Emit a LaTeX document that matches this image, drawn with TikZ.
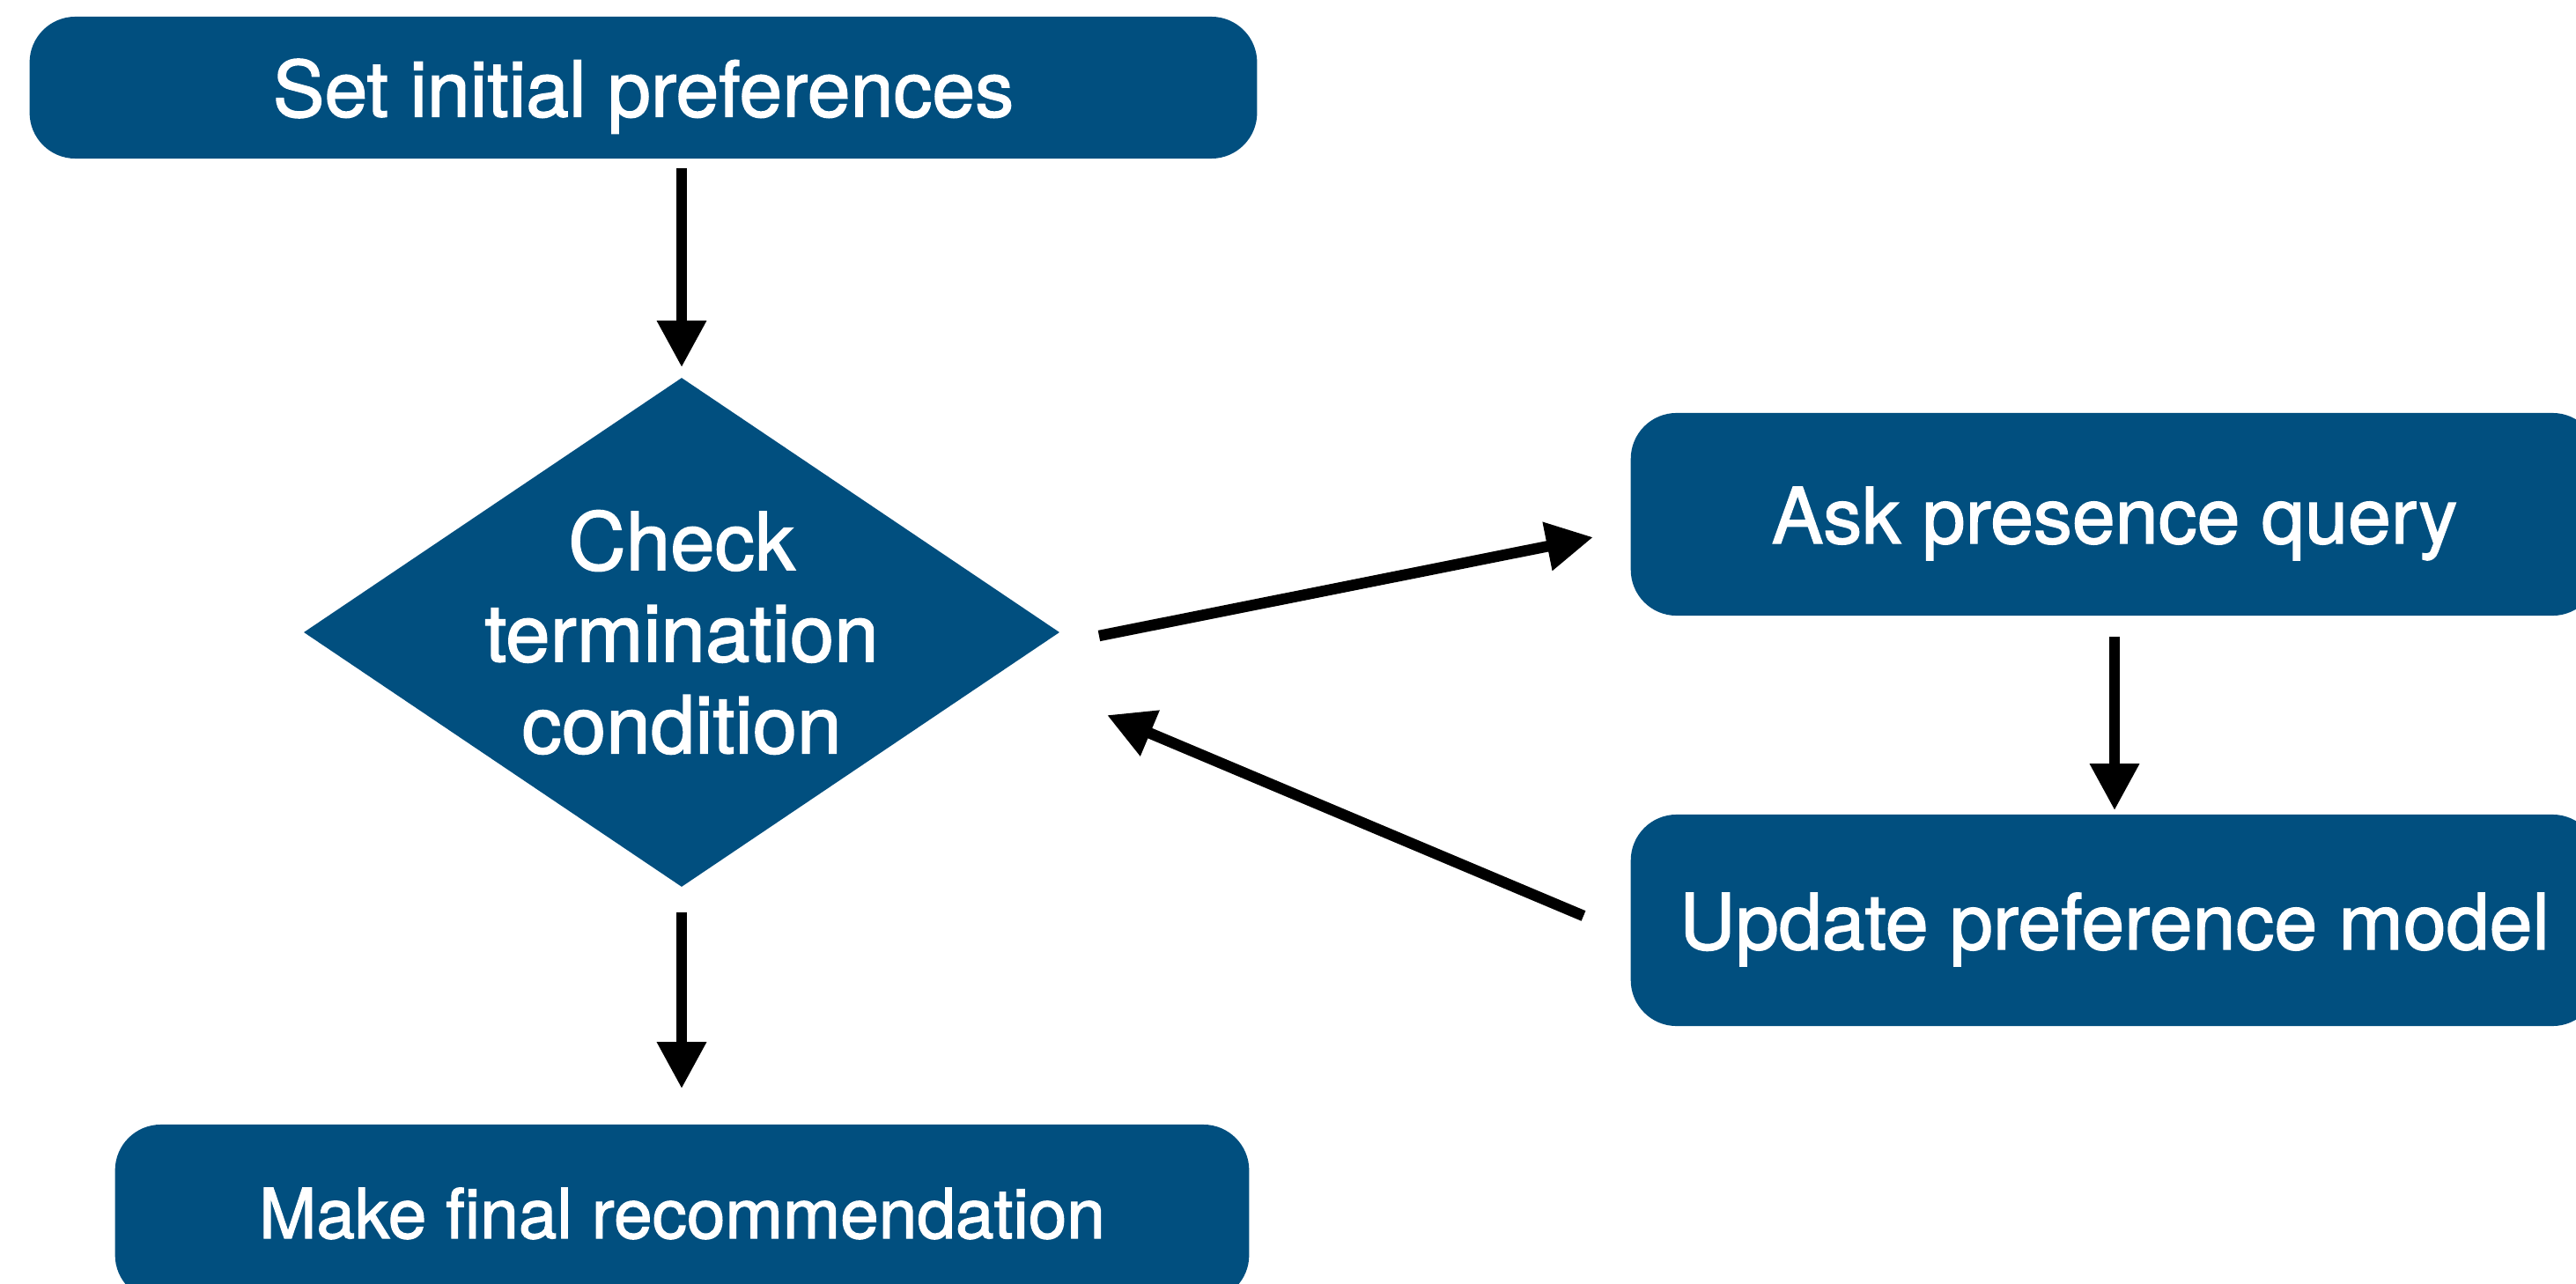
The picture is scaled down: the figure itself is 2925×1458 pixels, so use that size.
\documentclass[tikz,border=0pt]{standalone}
\usepackage{fontspec}
\setmainfont[FakeBold=1.6]{TeX Gyre Heros}
\usetikzlibrary{arrows.meta,shapes.geometric,calc}
\definecolor{boxblue}{RGB}{1,79,127}
\begin{document}
\begin{tikzpicture}[x=0.01cm,y=-0.01cm,
  box/.style={draw=none, fill=boxblue, text=white, rounded corners=0.52cm, inner sep=0,
    text height=0.66cm, text depth=0cm, font=\fontsize{25}{30}\selectfont},
  diam/.style={diamond, fill=boxblue, inner sep=0, aspect=1.484},
  lbl/.style={text=white, align=center, font=\fontsize{25.8}{29.6}\selectfont},
  arr/.style={line width=0.125cm, -{Triangle[length=0.53cm,width=0.53cm]}}
]
\useasboundingbox (0,0) rectangle (2925,1458);
\clip (0,0) rectangle (2925,1458);
\node[box, minimum width=13.93cm, minimum height=1.61cm] (top) at (730.5,99.5) {Set initial preferences};
\node[diam, minimum width=8.58cm, minimum height=5.78cm] (dia) at (774,718) {};
\node[lbl] (diatext) at (dia.center) {Check\\termination\\condition};
\node[box, minimum width=10.98cm, minimum height=2.30cm] (ask) at (2401,584) {Ask presence query};
\node[box, minimum width=10.98cm, minimum height=2.40cm] (upd) at (2401,1045) {Update preference model};
\node[box, minimum width=12.87cm, minimum height=2.00cm, text height=0.58cm, font=\fontsize{22.3}{27}\selectfont] (bot) at (774.5,1377) {Make final recommendation};
\draw[arr, shorten <=0.1cm, shorten >=0.11cm] (top.south -| dia.north) -- (dia.north);
\draw[arr, shorten <=0.28cm, shorten >=0.40cm] (dia.south) -- (dia.south |- bot.north);
\draw[arr, shorten <=0.23cm, shorten >=0.04cm] (ask.south) -- (upd.north);
\draw[arr] ($(dia.east)+(44,4)$) -- ($(ask.west)+(-42,26)$);
\draw[arr] ($(upd.west)+(-53,-5)$) -- ($(dia.east)+(53,94)$);
\end{tikzpicture}
\end{document}
